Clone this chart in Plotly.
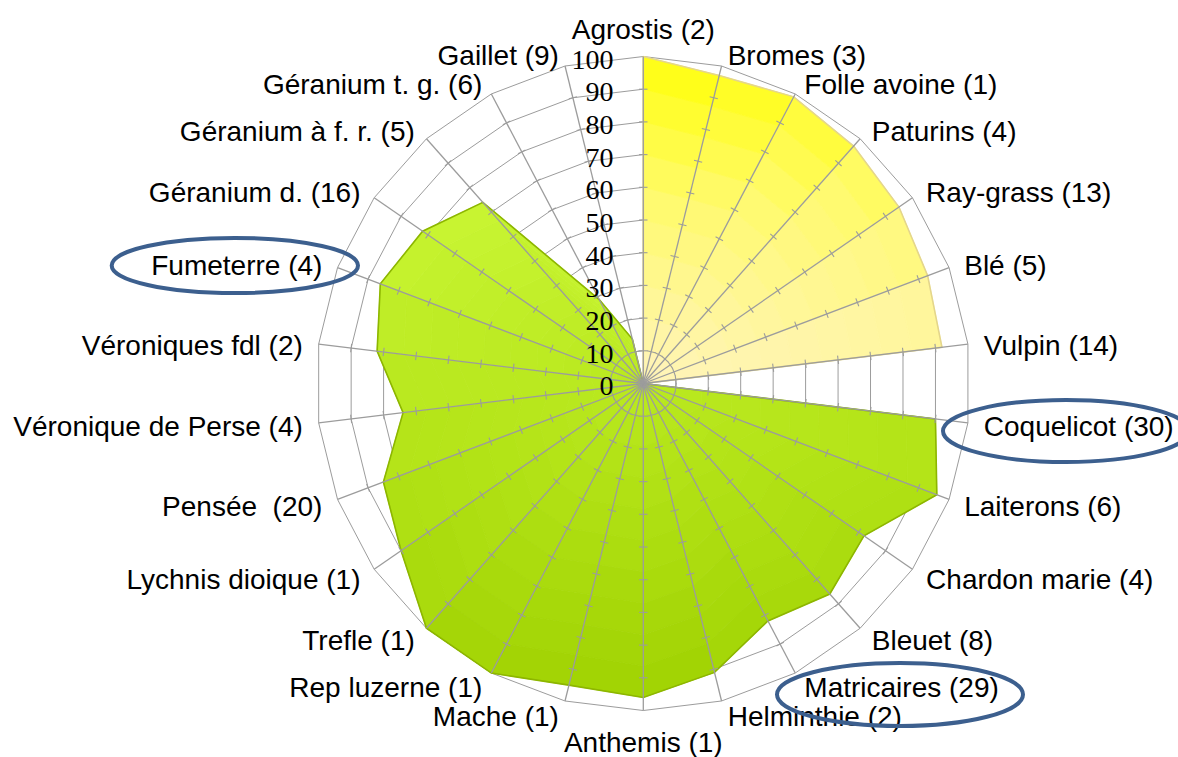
import numpy as np
import plotly.graph_objects as go

# ---------------- data ----------------
categories = [
    "Agrostis (2)", "Bromes (3)", "Folle avoine (1)", "Paturins (4)", "Ray-grass (13)",
    "Blé (5)", "Vulpin (14)", "Coquelicot (30)", "Laiterons (6)", "Chardon marie (4)",
    "Bleuet (8)", "Matricaires (29)", "Helminthie (2)", "Anthemis (1)", "Mache (1)",
    "Rep luzerne (1)", "Trefle (1)", "Lychnis dioique (1)", "Pensée  (20)",
    "Véronique de Perse (4)", "Véroniques fdl (2)", "Fumeterre (4)", "Géranium d. (16)",
    "Géranium à f. r. (5)", "Géranium t. g. (6)", "Gaillet (9)",
]
grass_values = [100, 97, 99, 97, 95, 93, 92,
                0, 0, 0, 0, 0, 0, 0, 0, 0, 0, 0, 0, 0, 0, 0, 0, 0, 0, 0]
dicot_values = [0, 0, 0, 0, 0, 0, 0,
                90, 96, 82, 86, 82, 91, 96, 95, 100, 100, 90, 85, 74, 82, 86, 82, 74, 29, 14]
radial_ticks = [0, 10, 20, 30, 40, 50, 60, 70, 80, 90, 100]
radial_tick_labels = [str(v) for v in radial_ticks]

# ---------------- styles ----------------
W, H = 1178, 757
CX, CY, R = 643.3, 383.5, 327.0      # centre and pixel radius of the value 100
RMAX = 105.0                          # radial range kept a bit larger so labels fit inside
LABEL_GAP = 13.0                      # px beyond the outer polygon for category labels
LABEL_DY = 5.0                        # px the text layer sits lower
GRID = "#9C9C9C"
grass_stops = [(0.0, (255, 255, 8)), (0.45, (255, 250, 110)), (1.0, (255, 244, 185))]
dicot_stops = [(0.0, (202, 246, 52)), (0.5, (180, 228, 24)), (1.0, (160, 210, 2))]
grass_edge = "#E4D68C"
dicot_edge = "#8DB600"
ELLIPSE = "#3C5F8E"

n = len(categories)
bearing = np.array([i * 360.0 / n for i in range(n)])
RD = R * RMAX / 100.0


def lerp(stops, t):
    t = min(max(t, 0.0), 1.0)
    for (t0, c0), (t1, c1) in zip(stops[:-1], stops[1:]):
        if t <= t1:
            u = (t - t0) / (t1 - t0) if t1 > t0 else 0
            c = [round(a + (b - a) * u) for a, b in zip(c0, c1)]
            return "rgb(%d,%d,%d)" % tuple(c)
    return "rgb(%d,%d,%d)" % stops[-1][1]


fig = go.Figure()


def add_gradient(values, stops, nb=10):
    v = np.array(values, float)
    cosb = np.cos(np.radians(bearing))
    ys = list(v * cosb) + [0.0]
    ymax, ymin = max(ys), min(ys)
    for i in range(n):
        j = (i + 1) % n
        if v[i] == 0 or v[j] == 0:
            continue
        for b in range(nb):
            f1, f2 = b / nb, (b + 1) / nb
            fm = (f1 + f2) / 2
            yc = fm * (v[i] * cosb[i] + v[j] * cosb[j]) / 2
            col = lerp(stops, (ymax - yc) / (ymax - ymin))
            fig.add_trace(go.Scatterpolar(
                r=[f1 * v[i], f1 * v[j], f2 * v[j], f2 * v[i], f1 * v[i]],
                theta=[categories[i], categories[j], categories[j], categories[i], categories[i]],
                mode="lines", fill="toself", fillcolor=col,
                line=dict(color=col, width=0.8),
                hoverinfo="skip", showlegend=False))


add_gradient(grass_values, grass_stops)
add_gradient(dicot_values, dicot_stops)

# outlines (bevel-like edge)
for vals, col in ((grass_values, grass_edge), (dicot_values, dicot_edge)):
    fig.add_trace(go.Scatterpolar(
        r=list(vals) + [vals[0]], theta=categories + [categories[0]],
        mode="lines", line=dict(color=col, width=1.6),
        hoverinfo="skip", showlegend=False))

# spokes drawn above the fills
sp_r, sp_t = [], []
for c in categories:
    sp_r += [0, radial_ticks[-1], None]
    sp_t += [c, c, None]
fig.add_trace(go.Scatterpolar(r=sp_r, theta=sp_t, mode="lines",
                              line=dict(color=GRID, width=1.3),
                              hoverinfo="skip", showlegend=False, connectgaps=False))

# tick marks on spokes
tk_r, tk_t, tk_a = [], [], []
for i, c in enumerate(categories):
    for rv in radial_ticks[1:-1]:
        tk_r.append(rv)
        tk_t.append(c)
        tk_a.append(bearing[i])
fig.add_trace(go.Scatterpolar(r=tk_r, theta=tk_t, mode="markers",
                              marker=dict(symbol="line-ew", size=6, angle=tk_a,
                                          line=dict(color=GRID, width=1.1)),
                              hoverinfo="skip", showlegend=False))

# radial value labels along the first spoke (the centre label nudged off the exact pole,
# where plotly would otherwise hide it)
fig.add_trace(go.Scatterpolar(r=[max(v, 0.2) for v in radial_ticks],
                              theta=[categories[0]] * len(radial_ticks), subplot="polar2",
                              mode="markers+text", text=radial_tick_labels,
                              textposition="middle left", cliponaxis=False,
                              textfont=dict(family="Liberation Serif, Times New Roman", size=28, color="black"),
                              marker=dict(size=46, color="rgba(0,0,0,0)"),
                              hoverinfo="skip", showlegend=False))


# category labels just outside the outer polygon (on an overlaid, invisible polar layer)
def label_pos(b):
    if abs(b) < 1e-6:
        return "top center"
    if abs(b - 180) < 1e-6:
        return "bottom center"
    return "middle right" if b < 180 else "middle left"


rmax = radial_ticks[-1]
fig.add_trace(go.Scatterpolar(r=[rmax * (1 + LABEL_GAP / R)] * n, theta=categories,
                              mode="markers+text", text=categories, subplot="polar2",
                              textposition=[label_pos(b) for b in bearing], cliponaxis=False,
                              textfont=dict(family="Liberation Sans, Arial", size=28, color="black"),
                              marker=dict(size=3.2, color="rgba(0,0,0,0)"),
                              hoverinfo="skip", showlegend=False))

# highlight ellipses around labels (pixel boxes)
ellipses = [(111.7, 238, 358, 293), (943, 400, 1189, 462), (777, 663, 1023, 726)]
for x0, y0, x1, y1 in ellipses:
    fig.add_shape(type="circle", xref="paper", yref="paper",
                  x0=x0 / W, x1=x1 / W, y0=1 - y1 / H, y1=1 - y0 / H,
                  line=dict(color=ELLIPSE, width=4), layer="above")

dom_x = [(CX - RD) / W, (CX + RD) / W]
angular_common = dict(type="category", categoryarray=categories, categoryorder="array",
                      rotation=90, direction="clockwise",
                      showgrid=False, showline=False, ticks="", showticklabels=False)
fig.update_layout(
    width=W, height=H, margin=dict(l=0, r=0, t=0, b=0),
    paper_bgcolor="white", showlegend=False,
    polar=dict(
        domain=dict(x=dom_x, y=[(H - CY - RD) / H, (H - CY + RD) / H]),
        bgcolor="white",
        gridshape="linear",
        angularaxis=angular_common,
        radialaxis=dict(range=[0, RMAX], tickvals=radial_ticks[1:], angle=90,
                        showline=False,
                        showgrid=True, gridcolor=GRID, gridwidth=1.3,
                        ticks="", showticklabels=False),
    ),
    polar2=dict(
        domain=dict(x=dom_x, y=[(H - CY - LABEL_DY - RD) / H, (H - CY - LABEL_DY + RD) / H]),
        bgcolor="rgba(0,0,0,0)",
        gridshape="linear",
        angularaxis=angular_common,
        radialaxis=dict(range=[0, RMAX], visible=False, showgrid=False, showline=False,
                        ticks="", showticklabels=False),
    ),
)

fig.write_html("out.html", config={"displayModeBar": False},
               post_script="document.body.style.margin='0px';")
